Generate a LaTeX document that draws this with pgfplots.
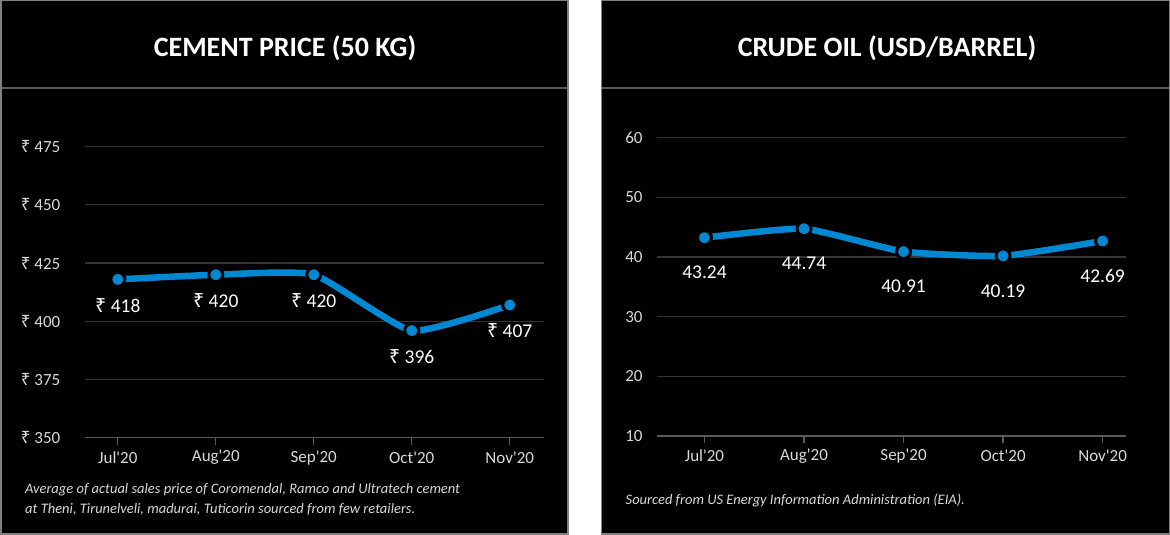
\documentclass[border=0pt]{standalone}
\usepackage{fontspec}
\setmainfont{Carlito}
\newfontfamily\rupeefont{Noto Sans}
\usepackage{pgfplots}
\pgfplotsset{compat=1.18}

\definecolor{lineblue}{RGB}{0,136,210}
\definecolor{gridgrey}{RGB}{52,52,52}
\definecolor{axisgrey}{RGB}{90,90,90}
\definecolor{bordergrey}{RGB}{128,128,128}
\definecolor{labelgrey}{RGB}{217,217,217}

\newcommand{\rs}{{\rupeefont\symbol{"20B9}}}
\newcommand{\px}[1]{\fontsize{#1pt}{#1pt}\selectfont}

\pgfplotsset{
  panel/.style={
    scale only axis,
    clip=false,
    axis lines*=left,
    x axis line style={-, axisgrey, line width=1.2pt},
    y axis line style={draw=none},
    tick align=outside,
    major tick length=7pt,
    xtick style={axisgrey, line width=1.2pt},
    ytick style={draw=none},
    ymajorgrids,
    grid style={gridgrey, line width=1.2pt},
    xtick={0,1,2,3,4},
    xticklabels={Jul\textquotesingle 20,Aug\textquotesingle 20,Sep\textquotesingle 20,Oct\textquotesingle 20,Nov\textquotesingle 20},
    xticklabel style={font=\px{17}, text=labelgrey, anchor=center, inner sep=0pt, yshift=-13pt},
    yticklabel style={font=\px{17}, text=labelgrey, anchor=east, inner sep=0pt},
    /pgf/number format/assume math mode=true,
  },
  curve/.style={
    lineblue, line width=6.5pt, smooth, tension=0.3,
    mark=*, mark size=7pt,
    mark options={fill=lineblue, draw=black, line width=3pt},
    nodes near coords,
    every node near coord/.append style={font=\px{19.5}, text=white, anchor=center},
  },
}

\begin{document}
\begin{tikzpicture}[x=1pt,y=1pt]
% page and panels
\fill[white] (0,0) rectangle (1170,535);
\filldraw[fill=black, draw=bordergrey, line width=1.5pt] (0.75,0.75) rectangle (568,534.25);
\filldraw[fill=black, draw=bordergrey, line width=1.5pt] (601.5,0.75) rectangle (1169.25,534.25);
\draw[axisgrey, line width=2.5pt] (1.5,447) -- (567.25,447);
\draw[axisgrey, line width=2.5pt] (602.25,447) -- (1168.5,447);

% titles
\node[text=white, font=\bfseries\px{28}] at (285,487) {CEMENT PRICE (50 KG)};
\node[text=white, font=\bfseries\px{28}] at (887,487) {CRUDE OIL (USD/BARREL)};

% cement price
\begin{axis}[panel,
  at={(84.5pt,97.3pt)}, anchor=south west,
  width=459.5pt, height=291pt,
  xmin=-0.34, xmax=4.35,
  ymin=350, ymax=475, ytick={350,375,...,475},
  yticklabel={\rs\ \pgfmathprintnumber{\tick}},
  yticklabel style={xshift=-17pt},
]
\addplot[curve,
  nodes near coords={\rs\ \pgfmathprintnumber{\pgfplotspointmeta}},
  every node near coord/.append style={yshift=-26pt},
] coordinates {(0,418) (1,420) (2,420) (3,396) (4,407)};
\end{axis}

% crude oil
\begin{axis}[panel,
  at={(656.7pt,99pt)}, anchor=south west,
  width=468.8pt, height=298.3pt,
  xmin=-0.48, xmax=4.23,
  ymin=10, ymax=60, ytick={10,20,...,60},
  yticklabel style={xshift=-7pt},
]
\addplot[curve,
  nodes near coords={\pgfmathprintnumber[fixed,precision=2,fixed zerofill]{\pgfplotspointmeta}},
  every node near coord/.append style={yshift=-35pt},
] coordinates {(0,43.24) (1,44.74) (2,40.91) (3,40.19) (4,42.69)};
\end{axis}

% footnotes
\node[anchor=west, inner sep=0pt, text=labelgrey, font=\itshape\px{14.5}] at (25,45) {Average of actual sales price of Coromendal, Ramco and Ultratech cement};
\node[anchor=west, inner sep=0pt, text=labelgrey, font=\itshape\px{14.5}] at (25,26) {at Theni, Tirunelveli, madurai, Tuticorin sourced from few retailers.};
\node[anchor=west, inner sep=0pt, text=labelgrey, font=\itshape\px{14.5}] at (625.5,35) {Sourced from US Energy Information Administration (EIA).};
\end{tikzpicture}
\end{document}
